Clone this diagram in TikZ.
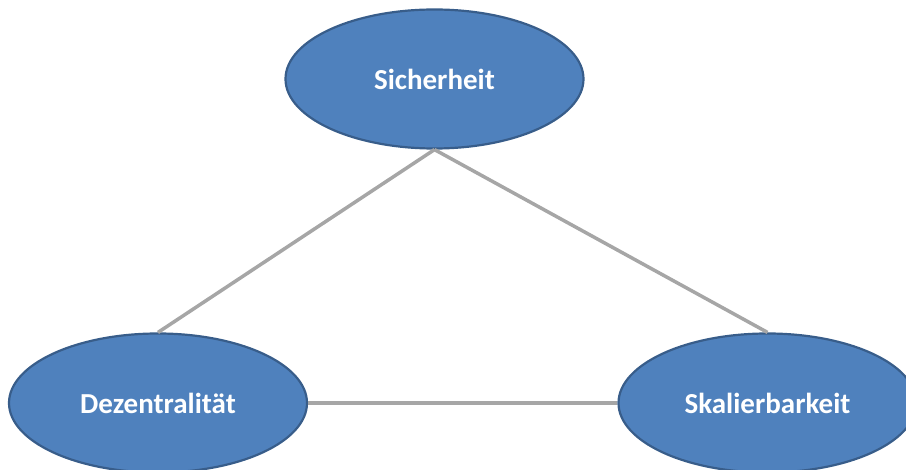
\documentclass[tikz,border=0pt]{standalone}
\usepackage{fontspec}
\setmainfont{Carlito}
\usetikzlibrary{shapes.geometric}
\definecolor{officeblue}{HTML}{4F81BD}
\definecolor{officeblueline}{HTML}{385D8A}
\definecolor{linkgray}{HTML}{A6A6A6}
\tikzset{
	goal/.style={ellipse,draw=officeblueline,fill=officeblue,line width=2.2pt,minimum width=298pt,minimum height=139pt,inner sep=0pt,text=white,font=\fontsize{29}{34}\selectfont\bfseries},
	link/.style={line width=3.5pt,color=linkgray}
}

\begin{document}
\begin{tikzpicture}[x=1pt,y=-1pt]
	\useasboundingbox (0,0) rectangle (906,470);

	\node [goal] (sicherheit) at (434.5,79) {Sicherheit};
	\node [goal] (dezentral) at (158,403) {Dezentralität};
	\node [goal] (skalier) at (767.5,403) {Skalierbarkeit};

	\draw [link] (sicherheit.south) -- (dezentral.north);
	\draw [link] (sicherheit.south) -- (skalier.north);
	\draw [link] (dezentral.east) -- (skalier.west);
\end{tikzpicture}
\end{document}
